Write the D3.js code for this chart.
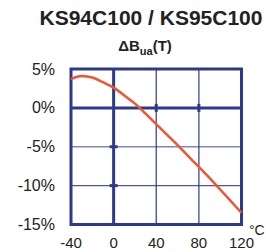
<!DOCTYPE html>
<html>
<head>
<meta charset="utf-8">
<script src="https://cdn.jsdelivr.net/npm/d3@7"></script>
<style>
  body { margin: 0; background: #fff; }
  text { font-family: "Liberation Sans", Arial, sans-serif; }
</style>
</head>
<body>
<div id="chart"></div>
<script>
// chart data
var temps = [-40, -30, -20, -10, 0, 10, 20, 30, 40, 50, 60, 70, 80, 90, 100, 110, 120];
var deltaB = [3.7, 4.1, 3.9, 3.3, 2.6, 1.6, 0.55, -0.75, -2.1, -3.45, -4.8, -6.2, -7.6, -9.0, -10.5, -12.0, -13.5];
var xTicks = [-40, 0, 40, 80, 120];
var yTicks = [5, 0, -5, -10, -15];
var title = "KS94C100 / KS95C100";

var W = 266, H = 252;
var blue = "#2d3a8c", red = "#ee5533";

var x = d3.scaleLinear().domain([-40, 120]).range([71, 241.5]);
var y = d3.scaleLinear().domain([-15, 5]).range([224.5, 69]);

var svg = d3.select("#chart").append("svg")
    .attr("width", W)
    .attr("height", H);

// titles
svg.append("text")
    .attr("x", 151).attr("y", 25)
    .attr("text-anchor", "middle")
    .style("font-size", "21px").style("font-weight", "bold")
    .attr("fill", "#222")
    .text(title);

var sub = svg.append("text")
    .attr("x", 145).attr("y", 51)
    .attr("text-anchor", "middle")
    .style("font-size", "15px").style("font-weight", "bold")
    .attr("fill", "#222");
sub.append("tspan").text("\u0394B");
sub.append("tspan").attr("dy", 4).style("font-size", "11px").text("ua");
sub.append("tspan").attr("dy", -4).text("(T)");

// thin grid
svg.selectAll(".vgrid").data([40, 80]).enter().append("line")
    .attr("x1", function(d) { return x(d); }).attr("x2", function(d) { return x(d); })
    .attr("y1", y(5)).attr("y2", y(-15))
    .attr("stroke", blue).attr("stroke-width", 1.4).attr("opacity", 0.85);
svg.selectAll(".hgrid").data([-5, -10]).enter().append("line")
    .attr("x1", x(-40)).attr("x2", x(120))
    .attr("y1", function(d) { return y(d); }).attr("y2", function(d) { return y(d); })
    .attr("stroke", blue).attr("stroke-width", 1.4)
    .attr("opacity", function(d) { return d == -5 ? 0.6 : 0.85; });

// thick zero lines
svg.append("line")
    .attr("x1", x(0)).attr("x2", x(0)).attr("y1", y(5)).attr("y2", y(-15))
    .attr("stroke", blue).attr("stroke-width", 3);
svg.append("line")
    .attr("x1", x(-40)).attr("x2", x(120)).attr("y1", y(0)).attr("y2", y(0))
    .attr("stroke", blue).attr("stroke-width", 3);

// small cross marks
svg.selectAll(".mx").data([40, 80]).enter().append("line")
    .attr("x1", function(d) { return x(d); }).attr("x2", function(d) { return x(d); })
    .attr("y1", y(0) - 4).attr("y2", y(0) + 4)
    .attr("stroke", blue).attr("stroke-width", 3);
svg.selectAll(".my").data([-5, -10]).enter().append("line")
    .attr("x1", x(0) - 4).attr("x2", x(0) + 4)
    .attr("y1", function(d) { return y(d); }).attr("y2", function(d) { return y(d); })
    .attr("stroke", blue).attr("stroke-width", 3);

// border
svg.append("rect")
    .attr("x", x(-40)).attr("y", y(5))
    .attr("width", x(120) - x(-40)).attr("height", y(-15) - y(5))
    .attr("fill", "none").attr("stroke", blue).attr("stroke-width", 3);

// curve
var pts = temps.map(function(t, i) { return [t, deltaB[i]]; });
var line = d3.line()
    .x(function(d) { return x(d[0]); })
    .y(function(d) { return y(d[1]); })
    .curve(d3.curveMonotoneX);
svg.append("path")
    .datum(pts)
    .attr("d", line)
    .attr("fill", "none")
    .attr("stroke", red).attr("stroke-width", 2.5);

// axis labels
svg.selectAll(".yl").data(yTicks).enter().append("text")
    .attr("x", 55).attr("y", function(d) { return y(d) + 5.5; })
    .attr("text-anchor", "end")
    .style("font-size", "16px").attr("fill", "#222")
    .text(function(d) { return d + "%"; });
svg.selectAll(".xl").data(xTicks).enter().append("text")
    .attr("x", function(d) { return x(d); }).attr("y", 248)
    .attr("text-anchor", "middle")
    .style("font-size", "15px").attr("fill", "#222")
    .text(function(d) { return d; });
svg.append("text")
    .attr("x", 249).attr("y", 235)
    .style("font-size", "14px").attr("fill", "#222")
    .text("\u00b0C");
</script>
</body>
</html>
